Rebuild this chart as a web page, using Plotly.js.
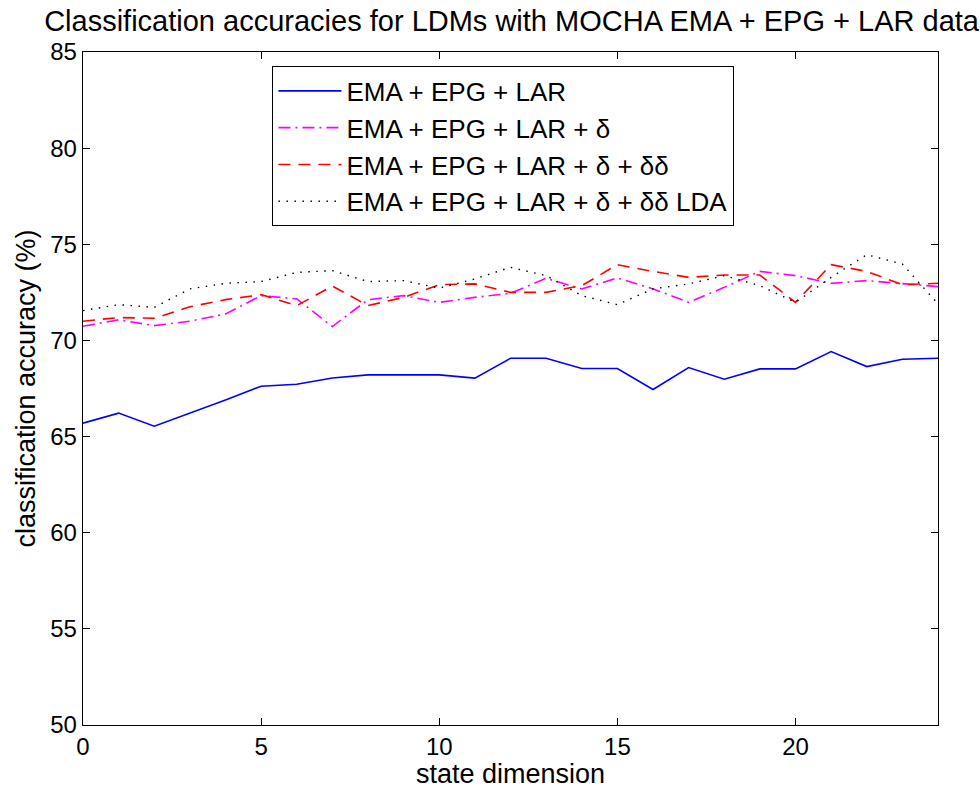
<!DOCTYPE html>
<html>
<head>
<meta charset="utf-8">
<script src="https://cdn.plot.ly/plotly-3.0.1.min.js"></script>
<style>
  html, body { margin: 0; padding: 0; background: #fff; }
  #chart { width: 980px; height: 789px; }
</style>
</head>
<body>
<div id="chart"></div>
<script>
// State dimensions evaluated
const stateDim = [0, 1, 2, 3, 4, 5, 6, 7, 8, 9, 10, 11, 12, 13, 14, 15, 16, 17, 18, 19, 20, 21, 22, 23, 24];

// Classification accuracy (%) for each feature set
const accBase = [65.70, 66.22, 65.54, 66.20, 66.90, 67.62, 67.72, 68.05, 68.21, 68.21, 68.21, 68.04, 69.07, 69.07, 68.54, 68.54, 67.45, 68.59, 67.98, 68.52, 68.52, 69.42, 68.64, 69.02, 69.07];
const accDelta = [70.74, 71.07, 70.77, 71.00, 71.38, 72.33, 72.16, 70.72, 72.12, 72.33, 71.98, 72.24, 72.45, 73.23, 72.68, 73.25, 72.68, 71.98, 72.76, 73.59, 73.37, 72.97, 73.11, 72.94, 72.80];
const accDeltaDD = [71.00, 71.19, 71.15, 71.75, 72.12, 72.38, 71.81, 72.83, 71.81, 72.24, 72.90, 72.94, 72.50, 72.50, 72.85, 73.94, 73.59, 73.28, 73.40, 73.40, 71.98, 73.94, 73.59, 72.90, 72.97];
const accLDA = [71.55, 71.86, 71.72, 72.68, 72.97, 73.06, 73.54, 73.63, 73.06, 73.11, 72.72, 73.20, 73.80, 73.37, 72.33, 71.86, 72.68, 72.94, 73.37, 72.85, 71.98, 73.28, 74.46, 73.97, 71.90];

const seriesNames = [
  'EMA + EPG + LAR',
  'EMA + EPG + LAR + \u03B4',
  'EMA + EPG + LAR + \u03B4 + \u03B4\u03B4',
  'EMA + EPG + LAR + \u03B4 + \u03B4\u03B4 LDA'
];

const xTicks = [0, 5, 10, 15, 20];
const yTicks = [50, 55, 60, 65, 70, 75, 80, 85];

const FONT = 'Liberation Sans, Arial, Helvetica, sans-serif';

const traces = [
  { x: stateDim, y: accBase, name: seriesNames[0], mode: 'lines',
    line: { color: '#0000ff', width: 1.6, dash: 'solid' } },
  { x: stateDim, y: accDelta, name: seriesNames[1], mode: 'lines',
    line: { color: '#ff00ff', width: 1.6, dash: '12px,5px,2px,5px' } },
  { x: stateDim, y: accDeltaDD, name: seriesNames[2], mode: 'lines',
    line: { color: '#ff0000', width: 1.6, dash: '12px,8px' } },
  { x: stateDim, y: accLDA, name: seriesNames[3], mode: 'lines',
    line: { color: '#000000', width: 1.4, dash: '1.5px,6.5px' } }
];

const axisCommon = {
  showline: true, mirror: 'ticks', linecolor: '#000', linewidth: 1.3,
  ticks: 'inside', ticklen: 7, tickcolor: '#000', tickwidth: 1,
  showgrid: false, zeroline: false,
  tickfont: { family: FONT, size: 24, color: '#000' }
};

const layout = {
  width: 980, height: 789,
  margin: { l: 83, r: 42, t: 52, b: 64 },
  paper_bgcolor: '#fff', plot_bgcolor: '#fff',
  font: { family: FONT, color: '#000' },
  title: {
    text: 'Classification accuracies for LDMs with MOCHA EMA + EPG + LAR data',
    font: { family: FONT, size: 29, color: '#000' },
    xref: 'container', x: 0.522, xanchor: 'center',
    yref: 'container', y: 0.973, yanchor: 'middle'
  },
  xaxis: Object.assign({}, axisCommon, {
    range: [0, 24], tickvals: xTicks, ticktext: xTicks.map(String),
    title: { text: 'state dimension', font: { family: FONT, size: 27, color: '#000' }, standoff: 0 }
  }),
  yaxis: Object.assign({}, axisCommon, {
    range: [50, 85], tickvals: yTicks, ticktext: yTicks.map(String),
    title: { text: 'classification accuracy (%)', font: { family: FONT, size: 27, color: '#000' }, standoff: 6 }
  }),
  showlegend: true,
  legend: {
    x: 0.2212, y: 0.979, xanchor: 'left', yanchor: 'top',
    bgcolor: '#fff', bordercolor: '#000', borderwidth: 1.3,
    font: { family: FONT, size: 26, color: '#000' },
    itemwidth: 63,
    tracegroupgap: 0
  }
};

Plotly.newPlot('chart', traces, layout, { staticPlot: true });
</script>
</body>
</html>
